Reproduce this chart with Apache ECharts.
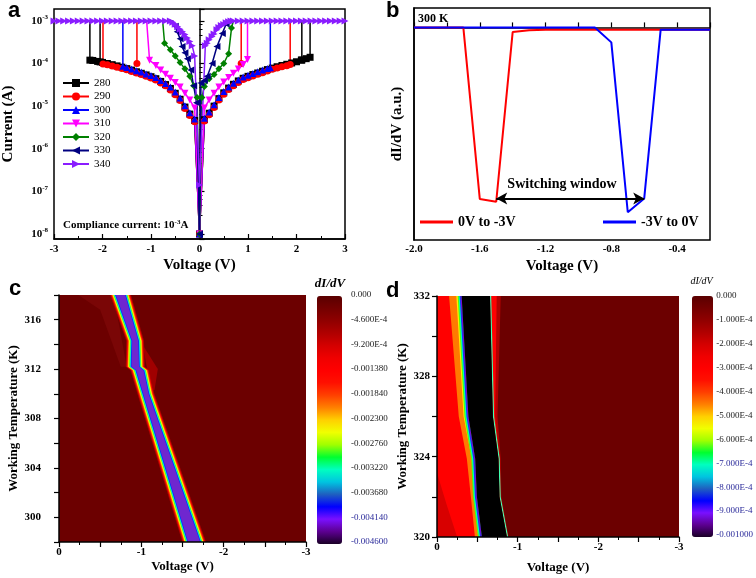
<!DOCTYPE html>
<html><head><meta charset="utf-8">
<script src="https://cdn.jsdelivr.net/npm/echarts/dist/echarts.min.js"></script>
<style>html,body{margin:0;padding:0;background:#fff}#main{width:756px;height:578px}</style>
</head><body><div id="main"></div>
<script>
// ---------------- Panel a: I-V curves (V in volts, I in amperes) ----------------
const compliance = 1e-3;
const tempNames = ['280', '290', '300', '310', '320', '330', '340'];
const iv280 = [
  [-3,1e-3],[-2.26,1e-3],[-2.26,1.2e-4],[-2.2,1.18e-4],[-2.1,1.12e-4],[-2.0,1.06e-4],[-1.9,1.0e-4],[-1.8,9.4e-5],[-1.7,8.8e-5],[-1.6,8.2e-5],[-1.5,7.6e-5],[-1.4,7.0e-5],[-1.3,6.4e-5],[-1.2,5.9e-5],[-1.1,5.4e-5],[-1.0,4.9e-5],[-0.9,4.4e-5],[-0.8,3.8e-5],[-0.7,3.2e-5],[-0.6,2.6e-5],[-0.5,2.0e-5],[-0.4,1.45e-5],[-0.3,9.5e-6],[-0.2,6.5e-6],[-0.1,4.6e-6],[0,1e-8],
  [0.1,4.8e-6],[0.2,6.8e-6],[0.3,1.0e-5],[0.4,1.5e-5],[0.5,2.05e-5],[0.6,2.65e-5],[0.7,3.25e-5],[0.8,3.9e-5],[0.9,4.5e-5],[1.0,5.0e-5],[1.1,5.5e-5],[1.2,6.0e-5],[1.3,6.6e-5],[1.4,7.2e-5],[1.5,7.8e-5],[1.6,8.4e-5],[1.7,9.0e-5],[1.8,9.6e-5],[1.9,1.03e-4],[2.0,1.1e-4],[2.1,1.2e-4],[2.2,1.3e-4],[2.28,1.4e-4],[2.28,1e-3],[3,1e-3],
  [0,'-'],[-2.05,1e-3],[-2.05,1.09e-4],
  [0,'-'],[2.11,1e-3],[2.11,1.21e-4]
];
const iv290 = [
  [-3,1e-3],[-1.99,1e-3],[-1.99,9.8e-5],[-1.9,9.3e-5],[-1.8,8.7e-5],[-1.7,8.2e-5],[-1.6,7.6e-5],[-1.5,7.1e-5],[-1.4,6.5e-5],[-1.3,6.0e-5],[-1.2,5.5e-5],[-1.1,5.0e-5],[-1.0,4.55e-5],[-0.9,4.1e-5],[-0.8,3.5e-5],[-0.7,3.0e-5],[-0.6,2.4e-5],[-0.5,1.85e-5],[-0.4,1.35e-5],[-0.3,8.8e-6],[-0.2,6.0e-6],[-0.1,4.3e-6],[0,1e-8],
  [0.1,4.5e-6],[0.2,6.3e-6],[0.3,9.3e-6],[0.4,1.4e-5],[0.5,1.9e-5],[0.6,2.45e-5],[0.7,3.0e-5],[0.8,3.6e-5],[0.9,4.2e-5],[1.0,4.65e-5],[1.1,5.1e-5],[1.2,5.6e-5],[1.3,6.1e-5],[1.4,6.7e-5],[1.5,7.3e-5],[1.6,7.8e-5],[1.7,8.4e-5],[1.8,8.9e-5],[1.87,9.5e-5],[1.87,1e-3],[3,1e-3],
  [0,'-'],[-1.29,1e-3],[-1.29,1.0e-4],
  [0,'-'],[0.86,1e-3],[0.86,1.0e-4]
];
const iv300 = [
  [-3,1e-3],[-1.58,1e-3],[-1.58,8.6e-5],[-1.5,8.1e-5],[-1.4,7.4e-5],[-1.3,6.8e-5],[-1.2,6.3e-5],[-1.1,5.7e-5],[-1.0,5.2e-5],[-0.9,4.7e-5],[-0.8,4.0e-5],[-0.7,3.4e-5],[-0.6,2.8e-5],[-0.5,2.15e-5],[-0.4,1.55e-5],[-0.3,1.02e-5],[-0.2,7.0e-6],[-0.1,5.0e-6],[0,1e-8],
  [0.1,5.2e-6],[0.2,7.3e-6],[0.3,1.08e-5],[0.4,1.6e-5],[0.5,2.2e-5],[0.6,2.8e-5],[0.7,3.45e-5],[0.8,4.1e-5],[0.9,4.8e-5],[1.0,5.3e-5],[1.1,5.8e-5],[1.2,6.4e-5],[1.3,7.0e-5],[1.4,7.6e-5],[1.46,8.0e-5],[1.46,1e-3],[3,1e-3]
];
const iv310 = [
  [-3,1e-3],[-1.09,1e-3],[-1.03,1.2e-4],[-0.9,9.0e-5],[-0.8,7.0e-5],[-0.7,5.6e-5],[-0.6,4.5e-5],[-0.5,3.6e-5],[-0.4,2.8e-5],[-0.3,2.0e-5],[-0.2,1.4e-5],[-0.1,9.0e-6],[0,1e-8],
  [0.1,9.0e-6],[0.2,1.4e-5],[0.3,2.0e-5],[0.4,2.8e-5],[0.5,3.7e-5],[0.6,4.7e-5],[0.7,5.9e-5],[0.8,7.4e-5],[0.9,9.5e-5],[0.99,1.25e-4],[0.99,1e-3],[3,1e-3]
];
const iv320 = [
  [-3,1e-3],[-0.76,1e-3],[-0.72,3.0e-4],[-0.6,2.1e-4],[-0.5,1.5e-4],[-0.4,1.05e-4],[-0.3,7.5e-5],[-0.2,5.0e-5],[-0.12,3.0e-5],[-0.05,1.6e-5],[0,1e-8],
  [0.05,1.6e-5],[0.1,2.9e-5],[0.2,4.4e-5],[0.3,5.5e-5],[0.4,7.5e-5],[0.5,1.0e-4],[0.6,1.7e-4],[0.66,6.8e-4],[0.7,1e-3],[3,1e-3]
];
const iv330 = [
  [-3,1e-3],[-0.55,1e-3],[-0.5,7.5e-4],[-0.46,5.6e-4],[-0.4,3.8e-4],[-0.36,2.5e-4],[-0.3,1.8e-4],[-0.25,1.3e-4],[-0.18,7.0e-5],[-0.12,3.0e-5],[-0.06,1.2e-5],[0,1e-8],
  [0.03,3.5e-5],[0.1,4.0e-5],[0.16,5.0e-5],[0.26,1.0e-4],[0.36,2.5e-4],[0.47,5.1e-4],[0.55,8.5e-4],[0.6,1e-3],[3,1e-3]
];
const plateau340Neg = [-3,-2.9,-2.8,-2.7,-2.6,-2.5,-2.4,-2.3,-2.2,-2.1,-2.0,-1.9,-1.8,-1.7,-1.6,-1.5,-1.4,-1.3,-1.2,-1.1,-1.0,-0.9,-0.8,-0.7,-0.6];
const knee340 = [[-0.55,9.3e-4],[-0.5,8.3e-4],[-0.45,7.3e-4],[-0.4,6.4e-4],[-0.35,5.6e-4],[-0.3,4.8e-4],[-0.25,4.0e-4],[-0.2,3.3e-4],[-0.15,2.6e-4],[-0.1,1.5e-4],[0,1.4e-7],
  [0.12,2.6e-4],[0.16,3.0e-4],[0.2,3.6e-4],[0.26,4.3e-4],[0.3,4.9e-4],[0.36,6.2e-4],[0.4,7.0e-4],[0.45,7.8e-4],[0.5,8.2e-4],[0.55,9.0e-4],[0.6,9.6e-4]];
const plateau340Pos = [0.65,0.7,0.8,0.9,1.0,1.1,1.2,1.3,1.4,1.5,1.6,1.7,1.8,1.9,2.0,2.1,2.2,2.3,2.4,2.5,2.6,2.7,2.8,2.9,3.0];
const iv340 = plateau340Neg.map(v => [v, compliance]).concat(knee340, plateau340Pos.map(v => [v, compliance]));
const ivData = [iv280, iv290, iv300, iv310, iv320, iv330, iv340];

// ---------------- Panel b: dI/dV at 300 K (a.u.) ----------------
const bVoltage = [-2.0,-1.9,-1.8,-1.7,-1.6,-1.5,-1.4,-1.3,-1.2,-1.1,-1.0,-0.9,-0.8,-0.7,-0.6,-0.5,-0.4,-0.3,-0.2];
const bForward = [0,0,0,0,-0.928,-0.943,-0.025,-0.016,-0.013,-0.012,-0.012,-0.012,-0.012,-0.012,-0.012,-0.012,-0.012,-0.012,-0.012];
const bReverse = [0,0,0,0,0,0,0,0,0,0,0,0,-0.081,-1.0,-0.925,-0.012,-0.012,-0.012,-0.012];
const bWindow = [-1.5, -0.6];
const bWindowLevel = -0.925;

// ---------------- Panel c: dI/dV map, 298-318 K ----------------
const cTemp = [298, 310, 311.9, 312.2, 314.3, 318];
const cEdgeLeft = [-1.51, -0.965, -0.88, -0.822, -0.83, -0.632];
const cEdgeRight = [-1.773, -1.146, -1.085, -1.03, -1.02, -0.862];
const cHaloTemp = [312.2, 316.8, 318];
const cHaloLeft = [-0.75, -0.5, -0.235];
const cHaloRight = [-0.822, -0.696, -0.632];
const cPatchTemp = [310.3, 312.0, 313.8];
const cPatchLeft = [-1.14, -1.07, -1.022];
const cPatchRight = [-1.16, -1.2, -1.03];
const cBarLabels = ['0.000','-4.600E-4','-9.200E-4','-0.001380','-0.001840','-0.002300','-0.002760','-0.003220','-0.003680','-0.004140','-0.004600'];

// ---------------- Panel d: dI/dV map, 320-332 K ----------------
const dTemp = [320, 322, 323.9, 326, 332];
const dZero = [0, 0, 0, 0, 0];
const dCoreLeft = [-0.557, -0.495, -0.474, -0.39, -0.306];
const dCoreRight = [-0.867, -0.775, -0.763, -0.693, -0.657];
const dOrangeLeft = [-0.47, -0.42, -0.37, -0.27, -0.15];
const dYellowLeft = [-0.51, -0.46, -0.43, -0.33, -0.24];
const dRedStrip = [-0.875, -0.785, -0.775, -0.72, -0.74];
const dDarkStrip = [-0.885, -0.797, -0.79, -0.75, -0.79];
const dPatchTemp = [320, 321.6, 323.2];
const dPatchLeft = [0, 0, 0];
const dPatchRight = [-0.25, -0.12, 0];
const dBarLabels = ['0.000','-1.000E-4','-2.000E-4','-3.000E-4','-4.000E-4','-5.000E-4','-6.000E-4','-7.000E-4','-8.000E-4','-9.000E-4','-0.001000'];

// colour map (low -> high)
const cmap = ['#1a0026','#5c0090','#7a10ff','#0000ff','#1f5fc0','#00c4e0','#00ffc0','#00ff30','#a0ff00','#f0ff00','#ffd000','#ff8000','#ff4000','#ff1000','#ff0000','#f00000','#d40000','#b00000','#900000','#740000','#5a0000'];

const SERIF = 'Liberation Serif';
const SANS = 'Liberation Sans';
const colors = ['#000000','#ff0000','#0000ff','#ff00ff','#008000','#000080','#8a1cff'];
const symbols = ['rect','circle','triangle','triangle','diamond','triangle','triangle'];
const rotates = [0,0,0,180,0,90,-90];

function layer(T, a, b, da, db, color) { return {T, a, b, da, db, color}; }
const cLayers = [
  layer(cHaloTemp, cHaloLeft, cHaloRight, 0, 0, '#7a0606'),
  layer(cPatchTemp, cPatchLeft, cPatchRight, 0, 0, '#a00000'),
  layer(cTemp, cEdgeLeft, cEdgeRight, -1, 1, '#b00000'),
  layer(cTemp, cEdgeLeft, cEdgeRight, 0, 0, '#ff1000'),
  layer(cTemp, cEdgeLeft, cEdgeRight, 1, -1, '#ff9000'),
  layer(cTemp, cEdgeLeft, cEdgeRight, 1.7, -1.7, '#ffff00'),
  layer(cTemp, cEdgeLeft, cEdgeRight, 2.5, -2.5, '#40ff20'),
  layer(cTemp, cEdgeLeft, cEdgeRight, 3.2, -3.2, '#00f0e0'),
  layer(cTemp, cEdgeLeft, cEdgeRight, 4, -4, '#0030ff'),
  layer(cTemp, cEdgeLeft, cEdgeRight, 4.8, -4.8, '#6f27cf')
];
const dLayers = [
  layer(dTemp, dZero, dCoreLeft, 0, 0, '#ff0000'),
  layer(dPatchTemp, dPatchLeft, dPatchRight, 0, 0, '#d80000'),
  layer(dTemp, dOrangeLeft, dCoreLeft, 0, 0, '#ff7a00'),
  layer(dTemp, dYellowLeft, dCoreLeft, 0, 0, '#ffee00'),
  layer(dTemp, dCoreLeft, dCoreLeft, -4, 0, '#50ff00'),
  layer(dTemp, dCoreLeft, dCoreLeft, -3, 0, '#00ffc0'),
  layer(dTemp, dCoreLeft, dCoreLeft, -2, 0, '#0040ff'),
  layer(dTemp, dCoreLeft, dCoreLeft, -1.2, 0, '#7010d0'),
  layer(dTemp, dCoreRight, dDarkStrip, 0, 0, '#b00000'),
  layer(dTemp, dCoreRight, dRedStrip, 0, 0, '#ff0000'),
  layer(dTemp, dCoreRight, dCoreRight, 0, 1.2, '#40ffb0'),
  layer(dTemp, dCoreLeft, dCoreRight, 0, 0, '#000000')
];
function makeRender(layers) {
  return function (params, api) {
    const L = layers[params.dataIndex];
    const pts = [];
    for (let i = 0; i < L.T.length; i++) { const p = api.coord([L.a[i], L.T[i]]); pts.push([p[0] + L.da, p[1]]); }
    for (let i = L.T.length - 1; i >= 0; i--) { const p = api.coord([L.b[i], L.T[i]]); pts.push([p[0] + L.db, p[1]]); }
    return {type: 'polygon', shape: {points: pts}, style: {fill: L.color, stroke: null}};
  };
}

const tickFont = {fontFamily: SERIF, fontWeight: 'bold', fontSize: 11, color: '#000'};
const nameFontA = {fontFamily: SERIF, fontWeight: 'bold', fontSize: 15, color: '#000'};
const nameFontC = {fontFamily: SERIF, fontWeight: 'bold', fontSize: 13, color: '#000'};
const axisLine = {show: true, lineStyle: {color: '#000', width: 1.5}};

const series = [];
ivData.forEach((d, k) => {
  const isTop = k === ivData.length - 1;
  series.push({
    type: 'line', name: tempNames[k], xAxisIndex: 0, yAxisIndex: 0,
    // plateau markers of the lower temperatures are hidden under the 340 K trace
    data: d.map(p => (!isTop && p[1] === compliance) ? {value: p, symbol: 'none'} : p),
    symbol: symbols[k], symbolRotate: rotates[k], symbolSize: 7, showAllSymbol: true,
    lineStyle: {color: colors[k], width: 1.5}, itemStyle: {color: colors[k]},
    connectNulls: false, clip: true, silent: true
  });
});
series.push({
  type: 'line', name: '0V to -3V', xAxisIndex: 1, yAxisIndex: 1, symbol: 'none',
  data: bVoltage.map((v, i) => [v, bForward[i]]), lineStyle: {color: '#ff0000', width: 2}, itemStyle: {color: '#ff0000'}, silent: true,
  markLine: {silent: true, symbol: ['arrow', 'arrow'], symbolSize: [9, 11], label: {show: false},
    lineStyle: {color: '#000', width: 2, type: 'solid'},
    data: [[{coord: [bWindow[0], bWindowLevel]}, {coord: [bWindow[1], bWindowLevel]}]]}
});
series.push({
  type: 'line', name: '-3V to 0V', xAxisIndex: 1, yAxisIndex: 1, symbol: 'none',
  data: bVoltage.map((v, i) => [v, bReverse[i]]), lineStyle: {color: '#0000ff', width: 2}, itemStyle: {color: '#0000ff'}, silent: true
});
series.push({type: 'custom', xAxisIndex: 2, yAxisIndex: 2, renderItem: makeRender(cLayers), data: cLayers.map(L => [L.a[0], L.T[0]]), clip: true, silent: true});
series.push({type: 'custom', xAxisIndex: 3, yAxisIndex: 3, renderItem: makeRender(dLayers), data: dLayers.map(L => [L.a[0], L.T[0]]), clip: true, silent: true});

function txt(x, y, text, font, align, extra) {
  return {type: 'text', x: x, y: y, silent: true, z: 100,
    style: Object.assign({text: text, font: font, fill: '#000', textAlign: align || 'left', align: align || 'left', textVerticalAlign: 'bottom', verticalAlign: 'bottom'}, extra || {})};
}

const option = {
  animation: false,
  backgroundColor: '#fff',
  textStyle: {fontFamily: SERIF},
  grid: [
    {left: 54, top: 9, width: 291, height: 230, show: true, borderColor: '#000', borderWidth: 1.5},
    {left: 414, top: 8, width: 296, height: 232, show: true, borderColor: '#000', borderWidth: 1.5},
    {left: 59, top: 295, width: 247, height: 247, show: true, backgroundColor: '#6c0000', borderWidth: 0},
    {left: 437, top: 296, width: 242, height: 241, show: true, backgroundColor: '#6c0000', borderWidth: 0},
    {left: 317, top: 295, width: 25, height: 247},
    {left: 692, top: 296, width: 21, height: 239}
  ],
  xAxis: [
    {gridIndex: 0, type: 'value', min: -3, max: 3, interval: 1, axisLine: axisLine,
     axisTick: {inside: true, length: 5, lineStyle: {color: '#000', width: 1.2}},
     minorTick: {show: true, splitNumber: 2, length: 3, lineStyle: {color: '#000', width: 1}},
     splitLine: {show: false}, axisLabel: Object.assign({margin: 5}, tickFont),
     name: 'Voltage (V)', nameLocation: 'middle', nameGap: 19, nameTextStyle: nameFontA},
    {gridIndex: 1, type: 'value', min: -2, max: -0.2, interval: 0.2, axisLine: axisLine,
     axisTick: {inside: true, length: 5, lineStyle: {color: '#000', width: 1.2}},
     splitLine: {show: false},
     axisLabel: Object.assign({margin: 4, formatter: v => { const k = Math.round((v + 2) / 0.2); return (k % 2 === 0 && k < 9) ? v.toFixed(1) : ''; }}, tickFont),
     name: 'Voltage (V)', nameLocation: 'middle', nameGap: 19, nameTextStyle: nameFontA},
    {gridIndex: 2, type: 'value', min: -3, max: 0, inverse: true, interval: 0.5, z: 10, axisLine: axisLine,
     axisTick: {inside: false, length: 5, lineStyle: {color: '#000', width: 1.2}},
     minorTick: {show: true, splitNumber: 2, length: 3, lineStyle: {color: '#000', width: 1}},
     splitLine: {show: false},
     axisLabel: Object.assign({margin: 5, formatter: v => Math.abs(v - Math.round(v)) < 1e-9 ? String(Math.round(v) === 0 ? 0 : Math.round(v)) : ''}, tickFont),
     name: 'Voltage (V)', nameLocation: 'middle', nameGap: 18, nameTextStyle: nameFontC},
    {gridIndex: 3, type: 'value', min: -3, max: 0, inverse: true, interval: 0.5, z: 10, axisLine: axisLine,
     axisTick: {inside: false, length: 5, lineStyle: {color: '#000', width: 1.2}},
     minorTick: {show: true, splitNumber: 2, length: 3, lineStyle: {color: '#000', width: 1}},
     splitLine: {show: false},
     axisLabel: Object.assign({margin: 5, formatter: v => Math.abs(v - Math.round(v)) < 1e-9 ? String(Math.round(v) === 0 ? 0 : Math.round(v)) : ''}, tickFont),
     name: 'Voltage (V)', nameLocation: 'middle', nameGap: 24, nameTextStyle: nameFontC},
    {gridIndex: 4, type: 'value', show: false, min: 0, max: 1},
    {gridIndex: 5, type: 'value', show: false, min: 0, max: 1}
  ],
  yAxis: [
    {gridIndex: 0, type: 'log', logBase: 10, min: Math.pow(10, -8.12), max: Math.pow(10, -2.72), axisLine: axisLine,
     axisTick: {inside: true, length: 5, lineStyle: {color: '#000', width: 1.2}},
     minorTick: {show: true, splitNumber: 5, length: 3, lineStyle: {color: '#000', width: 1}},
     splitLine: {show: false},
     axisLabel: {margin: 6, showMinLabel: false, showMaxLabel: false,
       formatter: v => '{b|10}{s|' + Math.round(Math.log10(v)) + '}',
       rich: {b: {fontFamily: SERIF, fontWeight: 'bold', fontSize: 11, color: '#000', lineHeight: 14},
              s: {fontFamily: SERIF, fontWeight: 'bold', fontSize: 7, color: '#000', verticalAlign: 'top', lineHeight: 14}}},
     name: 'Current (A)', nameLocation: 'middle', nameGap: 38, nameTextStyle: nameFontA},
    {gridIndex: 1, type: 'value', min: -1.15, max: 0.105, axisLine: axisLine, axisTick: {show: false}, axisLabel: {show: false}, splitLine: {show: false},
     name: 'dI/dV (a.u.)', nameLocation: 'middle', nameGap: 9, nameTextStyle: nameFontA},
    {gridIndex: 2, type: 'value', min: 298, max: 318, interval: 2, z: 10, axisLine: axisLine,
     axisTick: {inside: false, length: 5, lineStyle: {color: '#000', width: 1.2}}, splitLine: {show: false},
     axisLabel: Object.assign({margin: 18, formatter: v => (Math.round(v) % 4 === 0 ? String(Math.round(v)) : '')}, tickFont),
     name: 'Working Temperature (K)', nameLocation: 'middle', nameGap: 38, nameTextStyle: nameFontC},
    {gridIndex: 3, type: 'value', min: 320, max: 332, interval: 2, z: 10, axisLine: axisLine,
     axisTick: {inside: false, length: 5, lineStyle: {color: '#000', width: 1.2}}, splitLine: {show: false},
     axisLabel: Object.assign({margin: 7, formatter: v => (Math.round(v) % 4 === 0 ? String(Math.round(v)) : '')}, tickFont),
     name: 'Working Temperature (K)', nameLocation: 'middle', nameGap: 28, nameTextStyle: nameFontC},
    {gridIndex: 4, type: 'value', position: 'right', min: -0.0046, max: 0, interval: 0.00046,
     axisLine: {show: false}, axisTick: {show: false}, splitLine: {show: false},
     axisLabel: {margin: 9, fontFamily: SERIF, fontSize: 9,
       color: (v, i) => (Math.round(-v / 0.00046) >= 9 ? '#2a2a9a' : '#222'),
       formatter: v => cBarLabels[Math.round(-v / 0.00046)]}},
    {gridIndex: 5, type: 'value', position: 'right', min: -0.001, max: 0, interval: 0.0001,
     axisLine: {show: false}, axisTick: {show: false}, splitLine: {show: false},
     axisLabel: {margin: 9, fontFamily: SERIF, fontSize: 9,
       color: (v, i) => (Math.round(-v / 0.0001) >= 7 ? '#2a2a9a' : '#222'),
       formatter: v => dBarLabels[Math.round(-v / 0.0001)]}}
  ],
  visualMap: [
    {type: 'continuous', seriesIndex: [], min: -0.0046, max: 0, calculable: false, left: 317, top: 296, itemWidth: 25, itemHeight: 248, padding: 0, inRange: {color: cmap}, orient: 'vertical'},
    {type: 'continuous', seriesIndex: [], min: -0.001, max: 0, calculable: false, left: 692, top: 296, itemWidth: 21, itemHeight: 241, padding: 0, inRange: {color: cmap}, orient: 'vertical'}
  ],
  legend: [
    {data: tempNames, orient: 'vertical', left: 62, top: 77, itemWidth: 26, itemHeight: 10, itemGap: 1.5, padding: 0,
     textStyle: {fontFamily: SERIF, fontSize: 11, color: '#000', lineHeight: 12}, selectedMode: false},
    {data: ['0V to -3V'], left: 420, top: 214, icon: 'rect', itemWidth: 33, itemHeight: 3, padding: 0, selectedMode: false,
     textStyle: {fontFamily: SERIF, fontWeight: 'bold', fontSize: 14, color: '#000', lineHeight: 16}},
    {data: ['-3V to 0V'], left: 603, top: 214, icon: 'rect', itemWidth: 33, itemHeight: 3, padding: 0, selectedMode: false,
     textStyle: {fontFamily: SERIF, fontWeight: 'bold', fontSize: 14, color: '#000', lineHeight: 16}}
  ],
  graphic: {elements: [
    txt(8, 21.7, 'a', 'bold 22px "' + SANS + '"'),
    txt(386, 21.7, 'b', 'bold 22px "' + SANS + '"'),
    txt(9, 300, 'c', 'bold 22px "' + SANS + '"'),
    txt(386, 301.5, 'd', 'bold 22px "' + SANS + '"'),
    txt(418, 24.5, '300 K', 'bold 12px "' + SERIF + '"'),
    txt(562, 191, 'Switching window', 'bold 14px "' + SERIF + '"', 'center'),
    txt(330, 290, 'dI/dV', 'italic bold 13px "' + SERIF + '"', 'center'),
    txt(701.5, 286.5, 'dI/dV', 'italic 10px "' + SERIF + '"', 'center'),
    txt(63, 231.6, '{t|Compliance current: 10}{s|-3}{t|A}', 'bold 11px "' + SERIF + '"', 'left',
      {rich: {t: {font: 'bold 11px "' + SERIF + '"', fill: '#000', lineHeight: 13}, s: {font: 'bold 7px "' + SERIF + '"', fill: '#000', verticalAlign: 'top', lineHeight: 13}}})
  ]},
  series: series
};

const chart = echarts.init(document.getElementById('main'), null, {renderer: 'canvas'});
chart.setOption(option);
</script></body></html>
